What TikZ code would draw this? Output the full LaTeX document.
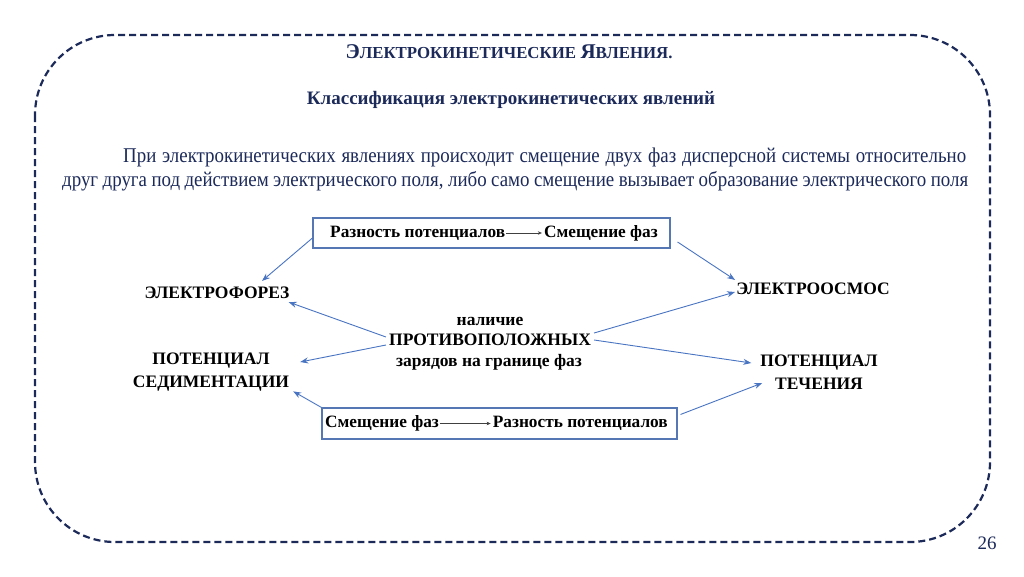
\documentclass[tikz,border=0pt]{standalone}
\usepackage{fontspec}
\setmainfont{Liberation Serif}
\newfontfamily\narrowserif[FakeStretch=0.9]{Liberation Serif}
\usetikzlibrary{arrows.meta,calc}
\definecolor{slidenavy}{HTML}{1C2A5A}
\definecolor{linkblue}{HTML}{4874C2}
\definecolor{boxblue}{HTML}{5578B5}

\begin{document}
\begin{tikzpicture}[x=1pt,y=-1pt,
  heading/.style={text=slidenavy, inner sep=0pt},
  phenomenon/.style={font=\bfseries\fontsize{17.5}{23}\selectfont, align=center, inner sep=3pt},
  phasebox/.style={draw=boxblue, line width=1.1pt, inner sep=0pt},
  boxtext/.style={font=\bfseries\fontsize{17.3}{20}\selectfont, inner sep=0pt},
  centretext/.style={font=\bfseries\fontsize{17.5}{20}\selectfont, inner sep=0pt},
  link/.style={draw=linkblue, line width=0.9pt, -{Stealth[length=8pt,width=6pt]}},
  insidearrow/.style={draw=black!75, line width=0.5pt, -{Stealth[length=4pt,width=3.5pt]}, shorten <=1pt, shorten >=2pt}
]
\fill[white] (0,0) rectangle (1024,576);
\useasboundingbox (0,0) rectangle (1024,576);

% dashed slide frame
\draw[slidenavy, line width=2.2pt, dash pattern=on 7pt off 4pt, rounded corners=80pt] (35,35) rectangle (990,542);

% headings
\node[heading, font=\bfseries] (title) at (509,52)
  {{\fontsize{21}{24}\selectfont Э}{\fontsize{16.8}{24}\selectfont ЛЕКТРОКИНЕТИЧЕСКИЕ}\hspace{2pt} {\fontsize{21}{24}\selectfont Я}{\fontsize{16.8}{24}\selectfont ВЛЕНИЯ.}};
\node[heading, font=\bfseries\fontsize{19}{23}\selectfont] (subtitle) at (511,100)
  {Классификация электрокинетических явлений};

% paragraph, two justified lines
\node[heading, anchor=west, font=\narrowserif\fontsize{21}{24}\selectfont] (lineone) at (123,157)
  {\hbox to 843pt{При электрокинетических явлениях происходит смещение двух фаз дисперсной системы относительно}};
\node[heading, anchor=west, font=\narrowserif\fontsize{21}{24}\selectfont] (linetwo) at (62,181)
  {\hbox to 906pt{друг друга под действием электрического поля, либо само смещение вызывает образование электрического поля}};

% upper box
\node[phasebox, minimum width=357pt, minimum height=30pt] (topbox) at (491.5,233) {};
\node[boxtext, anchor=west] (topfrom) at (330,233) {Разность потенциалов};
\node[boxtext, anchor=east] (topto) at (658,233) {Смещение фаз};
\draw[insidearrow] (topfrom.east) -- (topto.west);

% lower box
\node[phasebox, minimum width=355pt, minimum height=31pt] (botbox) at (499.5,423.5) {};
\node[boxtext, anchor=west] (botfrom) at (325,423.5) {Смещение фаз};
\node[boxtext, anchor=east] (botto) at (668,423.5) {Разность потенциалов};
\draw[insidearrow] (botfrom.east) -- (botto.west);

% phenomena
\node[phenomenon] (phoresis) at (217,293) {ЭЛЕКТРОФОРЕЗ};
\node[phenomenon] (osmosis) at (813,289) {ЭЛЕКТРООСМОС};
\node[phenomenon] (sedim) at (211,372) {ПОТЕНЦИАЛ\\СЕДИМЕНТАЦИИ};
\node[phenomenon] (flow) at (819,372) {ПОТЕНЦИАЛ\\ТЕЧЕНИЯ};

% centre
\node[centretext] (presence) at (490,321) {наличие};
\node[centretext] (opposite) at (490,340) {ПРОТИВОПОЛОЖНЫХ};
\node[centretext] (charges) at (489,362) {зарядов на границе фаз};

% connectors
\draw[link] ($(topbox.west)+(0,5)$) -- ($(phoresis.north)+(45,-3)$);
\draw[link] ($(topbox.east)+(7,9)$) -- ($(osmosis.north west)+(2,0)$);
\draw[link] ($(opposite.west)+(-3,-3)$) -- ($(phoresis.south east)+(-4,0)$);
\draw[link] ($(opposite.west)+(-3,5)$) -- ($(sedim.east)+(8,-10)$);
\draw[link] ($(opposite.east)+(3,-7)$) -- ($(osmosis.west)+(2,3)$);
\draw[link] ($(opposite.east)+(3,0)$) -- ($(flow.west)+(-6,-9)$);
\draw[link] (botbox.north west) -- ($(sedim.south east)+(1,-3)$);
\draw[link] ($(botbox.north east)+(3,7)$) -- ($(flow.west)+(5,11)$);

% page number
\node[text=slidenavy, font=\fontsize{19}{22}\selectfont, inner sep=0pt] (pagenum) at (987,543) {26};
\end{tikzpicture}
\end{document}
